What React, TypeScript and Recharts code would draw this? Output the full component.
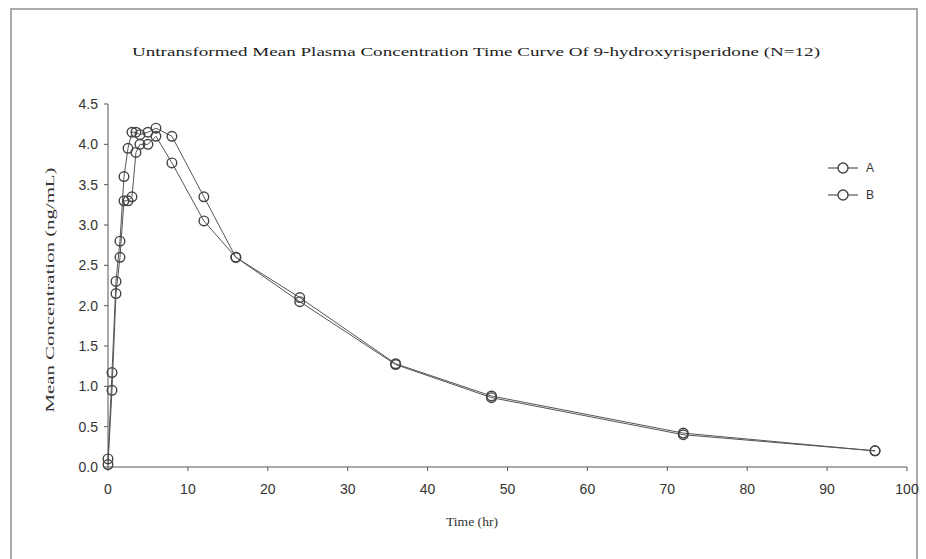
import { LineChart, Line, XAxis, YAxis } from 'recharts';

const times = [0, 0.5, 1, 1.5, 2, 2.5, 3, 3.5, 4, 5, 6, 8, 12, 16, 24, 36, 48, 72, 96];
const seriesA = [0.1, 1.17, 2.3, 2.8, 3.6, 3.95, 4.15, 4.15, 4.12, 4.15, 4.2, 4.1, 3.35, 2.6, 2.1, 1.28, 0.88, 0.42, 0.2];
const seriesB = [0.03, 0.95, 2.15, 2.6, 3.3, 3.3, 3.35, 3.9, 4.0, 4.0, 4.1, 3.77, 3.05, 2.6, 2.05, 1.27, 0.86, 0.4, 0.2];
const xTicks = [0, 10, 20, 30, 40, 50, 60, 70, 80, 90, 100];
const yTicks = [0, 0.5, 1, 1.5, 2, 2.5, 3, 3.5, 4, 4.5];

const title = 'Untransformed Mean Plasma Concentration Time Curve Of 9-hydroxyrisperidone (N=12)';

const data = times.map((t, i) => ({ t, a: seriesA[i], b: seriesB[i] }));

const serif = '"Liberation Serif", "DejaVu Serif", serif';
const sans = '"Liberation Sans", Arial, sans-serif';
const ink = '#555';

function Dot(props: any) {
  const { cx, cy } = props;
  if (cx == null || cy == null) return null;
  return <circle cx={cx} cy={cy} r={4.8} fill="none" stroke="#444" strokeWidth={1.4} />;
}

function XTick(props: any) {
  const { x, y, payload } = props;
  return (
    <text x={x} y={y + 21} textAnchor="middle" fontSize={14} fontFamily={sans} fill="#333">
      {payload.value}
    </text>
  );
}

function YTick(props: any) {
  const { x, y, payload } = props;
  return (
    <text x={x - 4} y={y + 5} textAnchor="end" fontSize={14} fontFamily={sans} fill="#333">
      {Number(payload.value).toFixed(1)}
    </text>
  );
}

function LegendRow({ y, label }: { y: number; label: string }) {
  return (
    <g>
      <line x1={828} x2={858} y1={y} y2={y} stroke={ink} strokeWidth={1.2} />
      <circle cx={843} cy={y} r={5} fill="#fff" stroke="#444" strokeWidth={1.4} />
      <text x={866} y={y + 4} fontSize={12} fontFamily={sans} fill="#333">{label}</text>
    </g>
  );
}

export default function App() {
  return (
    <div style={{ position: 'absolute', left: 0, top: 0, width: 926, height: 559, background: '#fff', overflow: 'hidden' }}>
      <div style={{ position: 'absolute', left: 10, top: 8, width: 908, height: 600, border: '2px solid #aaa', boxSizing: 'border-box' }} />
      <div style={{ position: 'absolute', left: 0, top: 0 }}>
        <LineChart width={926} height={559} data={data} margin={{ top: 104, right: 19, bottom: 62, left: 60 }}>
          <XAxis
            dataKey="t"
            type="number"
            domain={[0, 100]}
            ticks={xTicks}
            interval={0}
            height={30}
            stroke={ink}
            tickSize={4}
            tick={<XTick />}
          />
          <YAxis
            type="number"
            domain={[0, 4.5]}
            ticks={yTicks}
            interval={0}
            width={48}
            stroke={ink}
            tickSize={4}
            tick={<YTick />}
          />
          <Line dataKey="a" stroke={ink} strokeWidth={1} dot={<Dot />} isAnimationActive={false} />
          <Line dataKey="b" stroke={ink} strokeWidth={1} dot={<Dot />} isAnimationActive={false} />
        </LineChart>
      </div>
      <svg width={926} height={559} style={{ position: 'absolute', left: 0, top: 0, pointerEvents: 'none' }}>
        <text x={476} y={56} textAnchor="middle" fontSize={13} fontFamily={serif} fill="#222" textLength={688} lengthAdjust="spacingAndGlyphs">{title}</text>
        <text x={472} y={526} textAnchor="middle" fontSize={12} fontFamily={serif} fill="#333" textLength={52} lengthAdjust="spacingAndGlyphs">Time (hr)</text>
        <text x={54} y={290} textAnchor="middle" fontSize={12} fontFamily={serif} fill="#333" transform="rotate(-90 54 290)" textLength={245} lengthAdjust="spacingAndGlyphs">Mean Concentration (ng/mL)</text>
        <LegendRow y={168} label="A" />
        <LegendRow y={195} label="B" />
      </svg>
    </div>
  );
}
